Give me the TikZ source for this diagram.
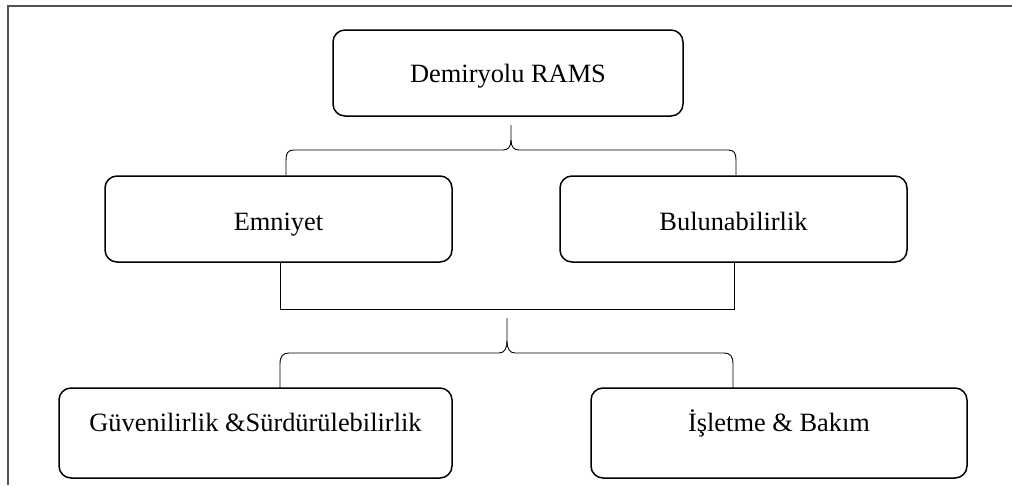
\documentclass[tikz,border=0pt]{standalone}
\usepackage{fontspec}
\setmainfont{Liberation Serif}
\begin{document}
\begin{tikzpicture}[x=1pt,y=-1pt,
  box/.style={draw=black, line width=1.5pt, rounded corners=12pt, inner sep=0pt,
              font=\fontsize{26.4}{30}\selectfont},
  link/.style={draw=black, line width=0.9pt},
  frame/.style={draw=black!68, line width=2pt}]
\useasboundingbox (0,0) rectangle (1012,485);

% outer frame (top and left edges)
\draw[frame] (1012,6) -- (8,6) -- (8,485);

% boxes
\node[box, minimum width=350pt, minimum height=86pt, text height=19pt, text depth=0pt]
  (rams) at (508,73) {Demiryolu RAMS};
\node[box, minimum width=347pt, minimum height=86pt, text height=22pt, text depth=0pt]
  (emn) at (278.5,219) {Emniyet};
\node[box, minimum width=347pt, minimum height=86pt, text height=22pt, text depth=0pt]
  (bul) at (733.5,219) {Bulunabilirlik};
\node[box, minimum width=393pt, minimum height=90pt, text height=18pt, text depth=22pt]
  (gus) at (255.5,433) {Güvenilirlik \&Sürdürülebilirlik};
\node[box, minimum width=376pt, minimum height=90pt, text height=18pt, text depth=22pt]
  (isb) at (779,433) {İşletme \& Bakım};

% brace from the top box to the two middle boxes
\coordinate (t1) at (511,125);
\coordinate (l1) at (286,175);
\coordinate (r1) at (736,175);
\draw[link] (t1) -- (511,140)
  .. controls (511,147) and (508,150) .. (503,150) -- (294,150)
  .. controls (288,150) and (286,153) .. (286,160) -- (l1);
\draw[link] (511,140)
  .. controls (511,147) and (514,150) .. (519,150) -- (728,150)
  .. controls (734,150) and (736,153) .. (736,160) -- (r1);

% joining line under the middle boxes
\coordinate (j1) at (280,309);
\coordinate (j2) at (734,309);
\draw[link] (emn.south -| j1) -- (j1) -- (j2) -- (bul.south -| j2);

% brace down to the bottom boxes
\coordinate (t2) at (507,318);
\coordinate (l2) at (280,388);
\coordinate (r2) at (733,388);
\draw[link] (t2) -- (507,341)
  .. controls (507,349) and (504,353) .. (499,353) -- (289,353)
  .. controls (283,353) and (280,356) .. (280,364) -- (l2);
\draw[link] (507,341)
  .. controls (507,349) and (510,353) .. (515,353) -- (724,353)
  .. controls (730,353) and (733,356) .. (733,364) -- (r2);
\end{tikzpicture}
\end{document}
